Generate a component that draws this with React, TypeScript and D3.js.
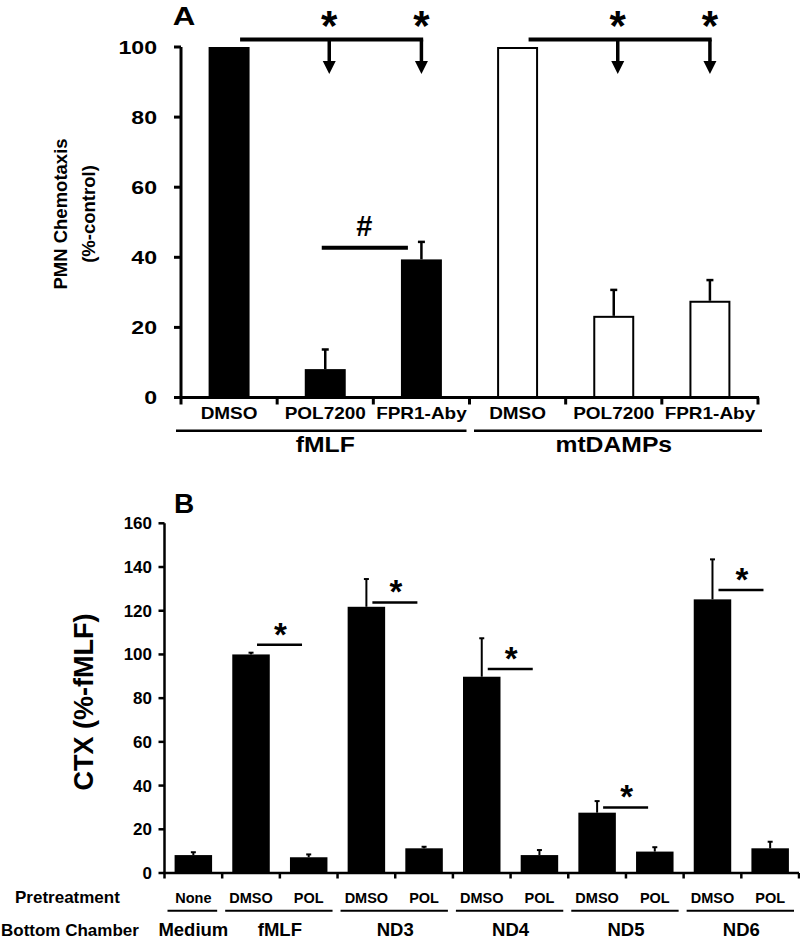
import React from "react";
import * as d3 from "d3";

// ---------- Panel A data ----------
const catsA = ["DMSO", "POL7200", "FPR1-Aby", "DMSO", "POL7200", "FPR1-Aby"];
const valuesA = [100, 8.1, 39.4, 100, 23.3, 27.6];
const errA = [0, 5.6, 5.0, 0, 7.4, 5.9];
const groupOfA = [0, 0, 0, 1, 1, 1];
const groupsA = ["fMLF", "mtDAMPs"];
const ticksA = [0, 20, 40, 60, 80, 100];

// ---------- Panel B data ----------
const pretreatB = ["None", "DMSO", "POL", "DMSO", "POL", "DMSO", "POL", "DMSO", "POL", "DMSO", "POL"];
const valuesB = [8.2, 100, 7.2, 121.8, 11.3, 89.8, 8.2, 27.6, 9.8, 125.2, 11.3];
const errB = [1.3, 0.8, 1.3, 12.7, 0.7, 17.6, 2.3, 5.3, 2.0, 18.3, 3.0];
const groupsB = ["Medium", "fMLF", "ND3", "ND4", "ND5", "ND6"];
const groupStartB = [0, 1, 3, 5, 7, 9];
const groupSizeB = [1, 2, 2, 2, 2, 2];
const sigLevelB = [104.4, 123.8, 93.3, 30, 129.5]; // for groups fMLF..ND6
const ticksB = [0, 20, 40, 60, 80, 100, 120, 140, 160];

const FONT = "'Liberation Sans', Arial, Helvetica, sans-serif";

export default function App() {
  // scales A
  const xA = d3.scaleBand<number>().domain(d3.range(catsA.length)).range([181, 758]).paddingInner(0.574).paddingOuter(0.287);
  const yA = d3.scaleLinear().domain([0, 100]).range([397.5, 47]);
  const bwA = xA.bandwidth();
  const stepA = xA.step();
  const cA = (i: number) => (xA(i) as number) + bwA / 2;

  // scales B
  const xB = d3.scaleBand<number>().domain(d3.range(valuesB.length)).range([164.5, 799]).paddingInner(0.35).paddingOuter(0.175);
  const yB = d3.scaleLinear().domain([0, 160]).range([873, 523.3]);
  const bwB = xB.bandwidth();
  const stepB = xB.step();
  const cB = (i: number) => (xB(i) as number) + bwB / 2;

  const sx = (x: number, y: number, s: number) => `translate(${x},${y}) scale(${s},1)`;

  // A bracket groups
  const bracketsA = [0, 1].map((g) => {
    const idx = d3.range(catsA.length).filter((i) => groupOfA[i] === g);
    return { start: cA(idx[0]) + 11, mid: cA(idx[1]) + 4, end: cA(idx[2]) };
  });

  const arrow = (x: number, key: string) => (
    <g key={key}>
      <line x1={x} x2={x} y1={39.5} y2={63} stroke="#000" strokeWidth={3.5} />
      <path d={`M${x - 6.5},${61} L${x + 6.5},${61} L${x},${74} Z`} fill="#000" />
      <text x={x} y={40} textAnchor="middle" fontSize={42} fontWeight="bold" fontFamily={FONT}>*</text>
    </g>
  );

  return (
    <svg width={800} height={941} style={{ position: "absolute", left: 0, top: 0, background: "#fff" }}>
      <rect width={800} height={941} fill="#fff" />
      {/* ================= Panel A ================= */}
      <g fontFamily={FONT} fontWeight="bold">
        <text transform={sx(184, 25, 1.25)} textAnchor="middle" fontSize={25}>A</text>
        {/* y label */}
        <text transform="translate(67,214) rotate(-90)" textAnchor="middle" fontSize={18.5}>PMN Chemotaxis</text>
        <text transform="translate(95,214) rotate(-90)" textAnchor="middle" fontSize={18.5}>(%-control)</text>
        {/* y axis */}
        <line x1={181} x2={181} y1={yA(0) + 1.5} y2={yA(100)} stroke="#000" strokeWidth={3} />
        {ticksA.map((t) => (
          <g key={t}>
            <line x1={174} x2={181} y1={yA(t)} y2={yA(t)} stroke="#000" strokeWidth={3} />
            <text transform={sx(157, yA(t) + 6.5, 1.25)} textAnchor="end" fontSize={18.5}>{t}</text>
          </g>
        ))}
        {/* bars */}
        {valuesA.map((v, i) => {
          const x = xA(i) as number;
          const white = groupOfA[i] === 1;
          return (
            <g key={i}>
              {errA[i] > 0 && (
                <g>
                  <line x1={cA(i)} x2={cA(i)} y1={yA(v)} y2={yA(v + errA[i])} stroke="#000" strokeWidth={2.5} />
                  <line x1={cA(i) - 3.5} x2={cA(i) + 3.5} y1={yA(v + errA[i])} y2={yA(v + errA[i])} stroke="#000" strokeWidth={2.5} />
                </g>
              )}
              <rect
                x={white ? x + 1 : x}
                y={white ? yA(v) + 1 : yA(v)}
                width={white ? bwA - 2 : bwA}
                height={white ? yA(0) - yA(v) - 1 : yA(0) - yA(v)}
                fill={white ? "#fff" : "#000"}
                stroke={white ? "#000" : "none"}
                strokeWidth={2}
              />
            </g>
          );
        })}
        {/* x axis */}
        <line x1={179.5} x2={759} y1={yA(0)} y2={yA(0)} stroke="#000" strokeWidth={3} />
        {d3.range(catsA.length + 1).map((i) => (
          <line key={i} x1={181 + i * stepA} x2={181 + i * stepA} y1={yA(0)} y2={yA(0) + 7} stroke="#000" strokeWidth={3} />
        ))}
        {catsA.map((c, i) => (
          <text key={i} transform={sx(cA(i), 419, 1.15)} textAnchor="middle" fontSize={16.5}>{c}</text>
        ))}
        {groupsA.map((g, gi) => {
          const idx = d3.range(catsA.length).filter((i) => groupOfA[i] === gi);
          const x0 = (xA(idx[0]) as number) - stepA * 0.287;
          const x1 = x0 + stepA * idx.length;
          const s = gi === 0 ? x0 - 5 : x0 + 4.5;
          const e = gi === 0 ? x1 - 3 : x1 + 4;
          return (
            <g key={g}>
              <line x1={s} x2={e} y1={430.8} y2={430.8} stroke="#000" strokeWidth={2.5} />
              <text transform={sx((x0 + x1) / 2, 452, 1.15)} textAnchor="middle" fontSize={21.5}>{g}</text>
            </g>
          );
        })}
        {/* significance brackets */}
        {bracketsA.map((b, k) => (
          <g key={k}>
            <line x1={b.start} x2={b.end + 1.75} y1={39.5} y2={39.5} stroke="#000" strokeWidth={4} />
            {arrow(b.mid, "m" + k)}
            {arrow(b.end, "e" + k)}
          </g>
        ))}
        <line x1={cA(1) - 3.5} x2={cA(2) - 13.5} y1={247.7} y2={247.7} stroke="#000" strokeWidth={4} />
        <text x={(cA(1) + cA(2)) / 2 - 9} y={236} textAnchor="middle" fontSize={29}>#</text>
      </g>

      {/* ================= Panel B ================= */}
      <g fontFamily={FONT} fontWeight="bold">
        <text x={184} y={513} textAnchor="middle" fontSize={28}>B</text>
        <text transform="translate(93,702) rotate(-90)" textAnchor="middle" fontSize={27}>CTX (%-fMLF)</text>
        <line x1={164.5} x2={164.5} y1={yB(0) + 1} y2={yB(160)} stroke="#000" strokeWidth={2.5} />
        {ticksB.map((t) => (
          <g key={t}>
            <line x1={158.5} x2={164.5} y1={yB(t)} y2={yB(t)} stroke="#000" strokeWidth={2.5} />
            <text x={152} y={yB(t) + 6} textAnchor="end" fontSize={17}>{t}</text>
          </g>
        ))}
        {valuesB.map((v, i) => (
          <g key={i}>
            <line x1={cB(i)} x2={cB(i)} y1={yB(v)} y2={yB(v + errB[i])} stroke="#000" strokeWidth={2} />
            <line x1={cB(i) - 2.5} x2={cB(i) + 2.5} y1={yB(v + errB[i])} y2={yB(v + errB[i])} stroke="#000" strokeWidth={2} />
            <rect x={xB(i) as number} y={yB(v)} width={bwB} height={yB(0) - yB(v)} fill="#000" />
          </g>
        ))}
        <line x1={163.5} x2={799} y1={yB(0)} y2={yB(0)} stroke="#000" strokeWidth={2.5} />
        {d3.range(valuesB.length + 1).map((i) => (
          <line key={i} x1={164.5 + i * stepB} x2={164.5 + i * stepB} y1={yB(0)} y2={yB(0) + 5.5} stroke="#000" strokeWidth={2.5} />
        ))}
        {/* significance */}
        {sigLevelB.map((lv, k) => {
          const i = groupStartB[k + 1];
          const x1 = cB(i) + 6;
          const x2 = cB(i) + 51;
          return (
            <g key={k}>
              <line x1={x1} x2={x2} y1={yB(lv)} y2={yB(lv)} stroke="#000" strokeWidth={2.5} />
              <text x={(x1 + x2) / 2 + 1} y={yB(lv) + 1} textAnchor="middle" fontSize={33}>*</text>
            </g>
          );
        })}
        {/* labels */}
        <text x={15} y={903} fontSize={17}>Pretreatment</text>
        <text x={1} y={936} fontSize={17}>Bottom Chamber</text>
        {pretreatB.map((p, i) => (
          <text key={i} x={cB(i)} y={903} textAnchor="middle" fontSize={14.5}>{p}</text>
        ))}
        {groupsB.map((g, k) => {
          const x0 = 164.5 + groupStartB[k] * stepB;
          const x1 = x0 + groupSizeB[k] * stepB;
          return (
            <g key={g}>
              <line x1={x0 + 3} x2={x1 - 5} y1={910.7} y2={910.7} stroke="#000" strokeWidth={2} />
              <text x={(x0 + x1) / 2} y={936} textAnchor="middle" fontSize={18.5}>{g}</text>
            </g>
          );
        })}
      </g>
    </svg>
  );
}
